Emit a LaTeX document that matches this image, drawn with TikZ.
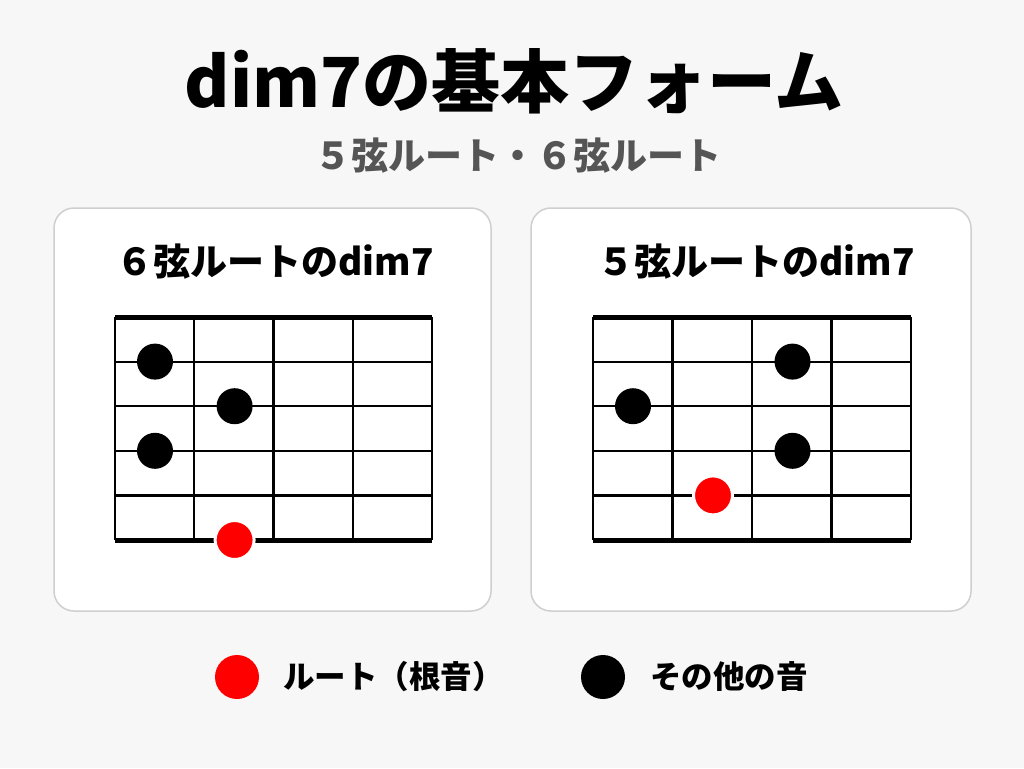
\documentclass[tikz,border=0pt]{standalone}
\usepackage{fontspec}
\setmainfont{Noto Sans CJK JP}
\usetikzlibrary{positioning}
\definecolor{bgcol}{HTML}{F7F7F7}
\definecolor{framecol}{HTML}{CFCFCF}
\definecolor{subcol}{HTML}{555555}
\definecolor{rootcol}{HTML}{FF0000}
\newcommand{\titlefont}{\fontsize{69}{69}\selectfont\bfseries}
\newcommand{\subfont}{\fontsize{37}{37}\selectfont\bfseries}
\newcommand{\headfont}{\fontsize{37}{37}\selectfont\bfseries}
\newcommand{\keyfont}{\fontsize{31.5}{31.5}\selectfont\bfseries}
\begin{document}
\begin{tikzpicture}[x=1pt,y=-1pt,
    panel/.style = {fill=white, draw=framecol, line width=1.5pt, rounded corners=20pt},
    fret/.style = {draw=black, line width=2.2pt},
    nut/.style = {draw=black, line width=5pt},
    note/.style = {circle, fill=black, minimum size=36pt, inner sep=0pt},
    root/.style = {circle, fill=rootcol, draw=white, line width=3pt, minimum size=39pt, inner sep=0pt},
    key/.style = {circle, minimum size=44pt, inner sep=0pt},
    keytext/.style = {font=\keyfont, inner sep=0pt, anchor=west}]
    \fill[bgcol] (0,0) rectangle (1024,768);
    \useasboundingbox (0,0) rectangle (1024,768);
    % title
    \node[font=\titlefont] (title) at (514,81) {dim7の基本フォーム};
    \node[font=\subfont, text=subcol] (subtitle) at (518,156) {５弦ルート・６弦ルート};
    % panels
    \draw[panel] (54,208) rectangle (491,611);
    \draw[panel] (531,208) rectangle (971,611);
    \node[font=\headfont] (headsix) at (275,262) {６弦ルートのdim7};
    \node[font=\headfont] (headfive) at (756,262) {５弦ルートのdim7};
    % 6th string root grid
    \foreach \x in {0,...,4}
        \draw[fret] ({115+\x*79.25},317) -- ({115+\x*79.25},540);
    \foreach \y in {1,...,4}
        \draw[fret] (115,{317+\y*44.6}) -- (432,{317+\y*44.6});
    \draw[nut] (115,317) -- (432,317);
    \draw[nut] (115,540) -- (432,540);
    \node[note] (sixa) at (155,361.6) {};
    \node[note] (sixb) at (234.6,406.2) {};
    \node[note] (sixc) at (155,450.8) {};
    \node[root] (sixroot) at (234.6,540) {};
    % 5th string root grid
    \foreach \x in {0,...,4}
        \draw[fret] ({593+\x*79.5},317) -- ({593+\x*79.5},540);
    \foreach \y in {1,...,4}
        \draw[fret] (593,{317+\y*44.6}) -- (911,{317+\y*44.6});
    \draw[nut] (593,317) -- (911,317);
    \draw[nut] (593,540) -- (911,540);
    \node[note] (fivea) at (792.5,361.6) {};
    \node[note] (fiveb) at (633,406.2) {};
    \node[note] (fivec) at (792.5,450.8) {};
    \node[root] (fiveroot) at (713,495.4) {};
    % legend
    \node[key, fill=rootcol] (rootkey) at (237,677) {};
    \node[keytext, right=24pt of rootkey] (roottext) {ルート（根音）};
    \node[key, fill=black] (otherkey) at (603,677) {};
    \node[keytext, right=25pt of otherkey] (othertext) {その他の音};
\end{tikzpicture}
\end{document}
